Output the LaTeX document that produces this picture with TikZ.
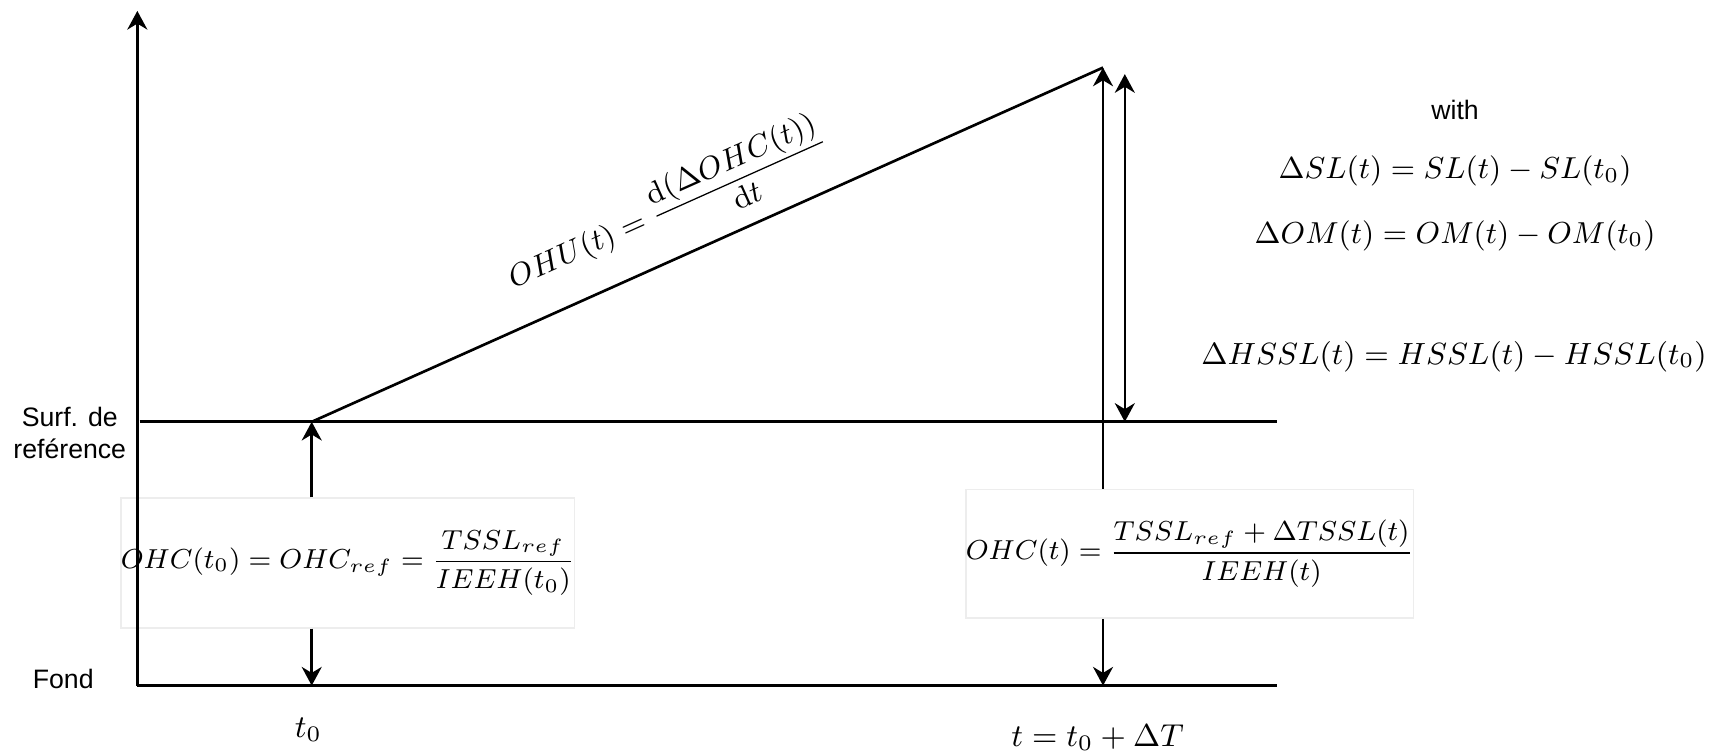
\RequirePackage{fix-cm}
\documentclass[tikz,border=0pt]{standalone}
\usepackage{amsmath}
\usepackage{fontspec}
\newfontfamily\arialfont{Liberation Sans}
\usetikzlibrary{arrows.meta}
\newcommand{\boxsize}{\fontsize{8.24}{10}\selectfont}
\begin{document}
\begin{tikzpicture}[x=0.327pt,y=-0.327pt,
  ln/.style={line width=0.8pt},
  arr/.style={line width=0.75pt,-{Stealth[length=5.6pt,width=6pt,inset=1.8pt]}},
  darr/.style={line width=0.75pt,{Stealth[length=5.6pt,width=6pt,inset=1.8pt]}-{Stealth[length=5.6pt,width=6pt,inset=1.8pt]}},
  formbox/.style={draw=black!7,fill=white,line width=0.5pt,inner sep=0pt},
  mth/.style={inner sep=0pt,font=\fontsize{9.1}{11}\selectfont},
  lbl/.style={inner sep=0pt,font=\arialfont\fontsize{8}{9.6}\selectfont,align=center}]
\path[use as bounding box] (0,0) rectangle (1568,692);
% key points
\coordinate (O) at (126,629);
\coordinate (Top) at (126,10);
\coordinate (FondEnd) at (1172,629);
\coordinate (RefStart) at (128,387);
\coordinate (RefEnd) at (1172,387);
\coordinate (A) at (286,387);
\coordinate (B) at (1012,62);
\coordinate (C) at (1032,68);
% formula boxes
\node[formbox,minimum width=131.5pt,minimum height=38.9pt] (box1) at (319,516.5)
  {\boxsize$OHC(t_0)=OHC_{ref}=\dfrac{TSSL_{ref}}{IEEH(t_0)}$};
\node[formbox,minimum width=129.8pt,minimum height=38.6pt] (box2) at (1091.5,508)
  {\boxsize$OHC(t)=\dfrac{TSSL_{ref}+\Delta TSSL(t)}{IEEH(t)}$};
% axes and levels
\draw[arr,line width=0.8pt] (O) -- (Top);
\draw[ln] (O) -- (FondEnd);
\draw[ln] (RefStart) -- (RefEnd);
\draw[ln] (A) -- node[pos=0.475,sloped,above,inner sep=5pt,font=\fontsize{9.2}{11}\selectfont]
  {$OHU(t)=\dfrac{\mathrm{d}(\Delta OHC(t))}{\mathrm{d}t}$} (B);
% arrows
\draw[arr] (box1.north -| A) -- (A);
\draw[arr] (box1.south -| A) -- (A |- O);
\draw[arr] (box2.north -| B) -- (B);
\draw[arr] (box2.south -| B) -- (B |- O);
\draw[darr] (C |- RefEnd) -- (C);
% labels
\node[lbl] (surf) at (64,397) {Surf. de\\reférence};
\node[lbl] (fond) at (58,623) {Fond};
\node[mth,anchor=base,font=\fontsize{9.5}{11}\selectfont] (t0) at (283,677) {$t_0$};
\node[mth,anchor=base,font=\fontsize{9.5}{11}\selectfont] (t1) at (1007,685) {$t=t_0+\Delta T$};
\node[lbl] (with) at (1335,101) {with};
\node[mth] (dsl) at (1335,157) {$\Delta SL(t)=SL(t)-SL(t_0)$};
\node[mth] (dom) at (1335,216) {$\Delta OM(t)=OM(t)-OM(t_0)$};
\node[mth,font=\fontsize{9.2}{11}\selectfont] (dhssl) at (1334,327) {$\Delta HSSL(t)=HSSL(t)-HSSL(t_0)$};
\end{tikzpicture}
\end{document}
